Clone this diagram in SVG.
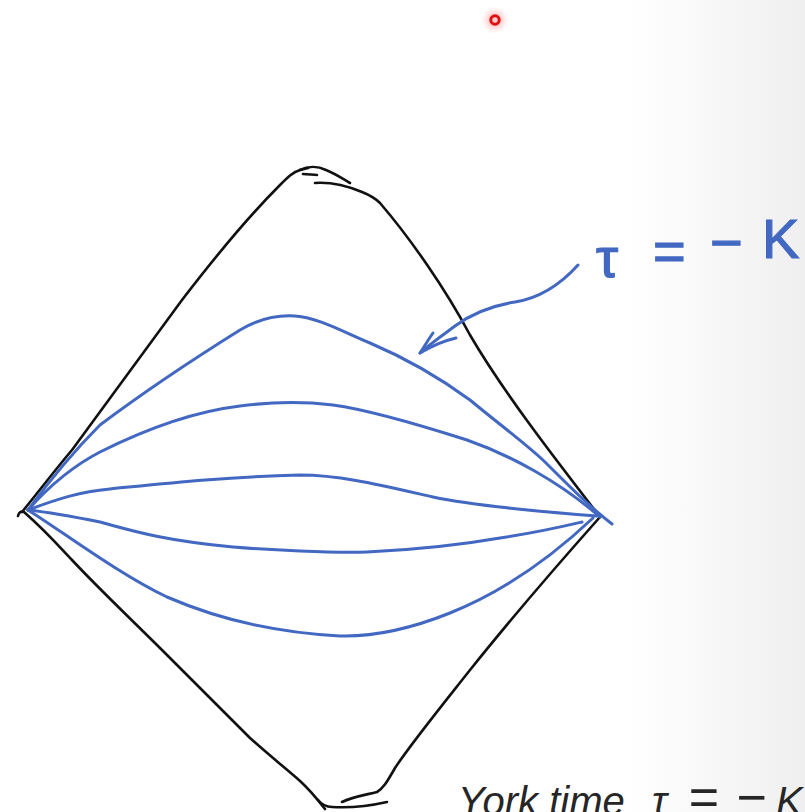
<svg xmlns="http://www.w3.org/2000/svg" width="805" height="812" viewBox="0 0 805 812">
  <defs>
    <linearGradient id="bg" gradientUnits="userSpaceOnUse" x1="630" y1="0" x2="805" y2="0">
      <stop offset="0" stop-color="#ffffff"/>
      <stop offset="1" stop-color="#efefef"/>
    </linearGradient>
    <radialGradient id="glow">
      <stop offset="0" stop-color="#ff5a5a" stop-opacity="0.6"/>
      <stop offset="0.55" stop-color="#ff8c8c" stop-opacity="0.3"/>
      <stop offset="1" stop-color="#ffc0c0" stop-opacity="0"/>
    </radialGradient>
    <style>
      .ink { fill: none; stroke: #111111; stroke-width: 2.6; stroke-linecap: round; stroke-linejoin: round; }
      .pen { fill: none; stroke: #4268c2; stroke-width: 3; stroke-linecap: round; stroke-linejoin: round; }
      .hand { font-family: "Liberation Sans", Arial, sans-serif; font-size: 56px; fill: #4268c2; stroke: #4268c2; stroke-width: 1.2; }
      .caption { font-family: "Liberation Sans", Arial, sans-serif; font-style: italic; font-size: 40px; fill: #262626; }
    </style>
  </defs>

  <rect x="0" y="0" width="805" height="812" fill="url(#bg)"/>

  <g id="pointer">
    <circle cx="495" cy="20" r="14" fill="url(#glow)"/>
    <circle cx="495" cy="20" r="4.2" fill="#ffd0d0" stroke="#e01010" stroke-width="3"/>
  </g>

  <g id="diamond">
    <path class="ink" d="M22,512 C40,490 55,470 72,450 C100,412 140,357 182,300 C215,257 250,215 280,185 C288,177 293,172 300,170 L308,168"/>
    <path class="ink" d="M300,170 C308,166 318,166 326,170 C336,174 343,179 350,183"/>
    <path class="ink" d="M303,174 C308,174 313,175 317,175"/>
    <path class="ink" d="M315,183 C330,182 345,185 362,192 C372,196 376,199 380,203 C410,238 445,288 470,335 C505,395 560,465 600,517"/>
    <path class="ink" d="M600,517 C560,562 510,620 470,670 C440,708 410,745 395,768 C388,780 384,788 377,792 C365,795 352,797 342,802"/>
    <path class="ink" d="M18,516 C19,512 21,511 24,512 C50,535 62,550 72,560 C100,590 130,618 162,650 C200,688 230,718 250,738 C270,756 290,772 300,781 C310,790 318,800 325,809"/>
    <path class="ink" d="M318,800 C322,805 326,807 332,807 C348,808 365,807 387,802"/>
  </g>

  <g id="slices">
    <path class="pen" d="M28,510 C50,480 78,447 100,425 C140,395 200,355 240,330 C262,317 280,315 295,316 C320,318 345,333 370,343 C410,360 440,378 470,400 C500,425 525,443 545,462 C570,487 590,507 612,524"/>
    <path class="pen" d="M28,510 C50,485 75,465 100,452 C140,432 190,412 240,406 C270,402 300,401 333,405 C370,410 420,425 467,440 C510,455 560,482 600,517"/>
    <path class="pen" d="M28,510 C60,498 80,492 110,489 C160,484 220,477 300,475 C340,475 380,485 433,497 C470,505 520,510 597,516"/>
    <path class="pen" d="M28,510 C55,513 80,518 100,522 C130,530 160,540 233,547 C270,550 330,553 367,552 C410,550 460,545 500,538 C540,532 565,526 582,522"/>
    <path class="pen" d="M28,510 C60,530 120,575 167,597 C220,620 280,633 340,636 C380,637 420,625 450,613 C490,597 540,568 593,518"/>
  </g>

  <g id="label-arrow">
    <path class="pen" d="M578,265 C560,285 540,298 515,302 C490,306 470,315 455,326 C440,337 430,344 420,353"/>
    <path class="pen" d="M433,333 C428,340 424,347 420,353 C430,347 443,341 456,338"/>
  </g>

  <g id="label">
    <text class="hand"><tspan x="596" y="277">τ</tspan> <tspan x="653" y="270">=</tspan> <tspan x="710" y="262">−</tspan><tspan x="762" y="258">K</tspan></text>
  </g>

  <g id="caption">
    <text class="caption"><tspan x="458" y="815">York time</tspan> <tspan x="652" y="815">τ</tspan> <tspan x="688" y="815" font-size="52">=</tspan> <tspan x="736" y="815" font-size="52">−</tspan><tspan x="776" y="815">K</tspan></text>
  </g>
</svg>
